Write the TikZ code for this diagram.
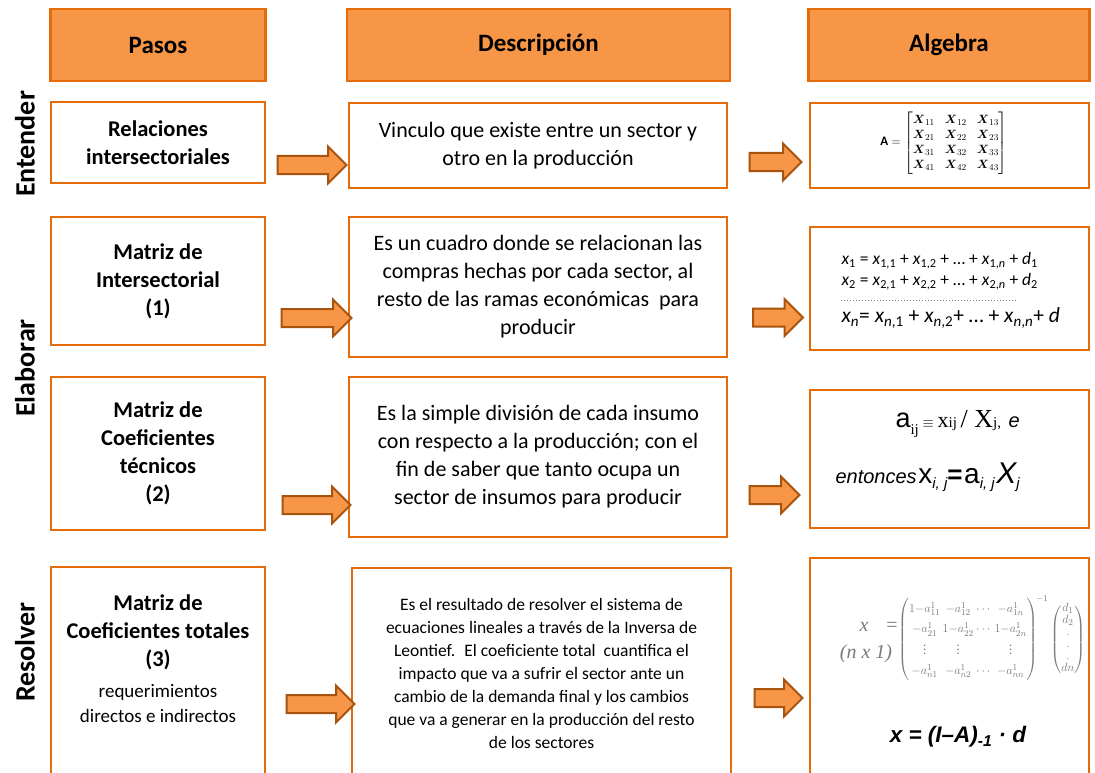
\documentclass[tikz,border=0pt]{standalone}
\usepackage{amsmath,amssymb}
\usepackage{fontspec}
\setmainfont{Carlito}
\newfontfamily\arialfont{Liberation Sans}
\newfontfamily\timesfont{Liberation Serif}
\usepackage{tikz}
\usetikzlibrary{shapes.arrows}
\definecolor{headfill}{HTML}{F79646}
\definecolor{boxedge}{HTML}{E46C0A}
\definecolor{arrowedge}{HTML}{A8530E}
\definecolor{eqgray}{HTML}{7A7A7A}
\newcommand{\ix}[1]{\textsubscript{#1}}
\tikzset{
% Header cells, step boxes and the block arrows between columns
head box/.style={draw=boxedge,fill=headfill,line width=2.5pt,font=\fontsize{25}{30}\selectfont\bfseries},
step box/.style={draw=boxedge,fill=white,line width=2.5pt,align=center},
step text/.style={align=center,font=\fontsize{22.5}{28}\selectfont\bfseries},
desc text/.style={align=center,font=\fontsize{22}{28}\selectfont},
block arrow/.style={single arrow,draw=arrowedge,fill=headfill,line width=2pt,inner xsep=0pt,inner ysep=8pt,minimum width=36pt,single arrow head extend=9.5pt},
stage label/.style={rotate=90,font=\fontsize{28}{30}\selectfont\bfseries}
}

\begin{document}
\begin{tikzpicture}[x=1pt,y=-1pt]
      \clip (0,0) rectangle (1095,773);
      % Headers
      \node[head box,minimum width=215pt,minimum height=72pt] (hPasos) at (158,45) {Pasos};
      \node[head box,minimum width=383pt,minimum height=72pt] (hDesc) at (538.5,45) {Descripción};
      \node[head box,minimum width=281pt,minimum height=72pt] (hAlg) at (949,45) {Algebra};
      % Stages
      \node[stage label] (sEnt) at (25,144) {Entender};
      \node[stage label] (sEla) at (25,368) {Elaborar};
      \node[stage label] (sRes) at (25,652) {Resolver};
      % Row 1
      \node[step box,step text,minimum width=214pt,minimum height=81pt] (p1) at (158,142.5) {Relaciones\\intersectoriales};
      \node[step box,desc text,minimum width=378pt,minimum height=85pt] (d1) at (538,145.5) {Vinculo que existe entre un sector y\\otro en la producción};
      \node[step box,minimum width=279pt,minimum height=85pt] (a1) at (949.5,145.5) {};
      \node (m1) at (944,143) {\fontsize{13}{15}\selectfont$\mathbf{A}=\begin{bmatrix}\boldsymbol{X}_{11}&\boldsymbol{X}_{12}&\boldsymbol{X}_{13}\\ \boldsymbol{X}_{21}&\boldsymbol{X}_{22}&\boldsymbol{X}_{23}\\ \boldsymbol{X}_{31}&\boldsymbol{X}_{32}&\boldsymbol{X}_{33}\\ \boldsymbol{X}_{41}&\boldsymbol{X}_{42}&\boldsymbol{X}_{43}\end{bmatrix}$};
      \node[block arrow,minimum height=69pt] (r1a) at (307.5,165) {};
      \node[block arrow,minimum height=52pt] (r1b) at (771,162) {};
      % Row 2
      \node[step box,step text,minimum width=214pt,minimum height=128pt] (p2) at (158,281) {Matriz de\\Intersectorial\\(1)};
      \node[step box,desc text,minimum width=378pt,minimum height=140pt] (d2) at (538,287) {Es un cuadro donde se relacionan las\\compras hechas por cada sector, al\\resto de las ramas económicas~ para\\producir};
      \node[step box,minimum width=279pt,minimum height=123pt] (a2) at (949.5,288.5) {};
      \node[anchor=west,font=\fontsize{17.5}{20}\selectfont] (e1) at (838,261) {\textit{x}\ix{1} = \textit{x}\ix{1,1} + \textit{x}\ix{1,2} + … + \textit{x}\ix{1,\textit{n}} + \textit{d}\ix{1}};
      \node[anchor=west,font=\fontsize{17.5}{20}\selectfont] (e2) at (838,282) {\textit{x}\ix{2} = \textit{x}\ix{2,1} + \textit{x}\ix{2,2} + … + \textit{x}\ix{2,\textit{n}} + \textit{d}\ix{2}};
      \draw[dotted,line width=1pt,gray] (841,300) -- (1018,300);
      \node[anchor=west,font=\fontsize{21.5}{24}\selectfont] (e3) at (838,318) {\textit{x}\ix{\textit{n}}= \textit{x}\ix{\textit{n},1} + \textit{x}\ix{\textit{n},2}+ … + \textit{x}\ix{\textit{n},\textit{n}}+ \textit{d}};
      \node[block arrow,minimum height=70pt] (r2a) at (312,318) {};
      \node[block arrow,minimum height=50pt] (r2b) at (773.5,317.5) {};
      % Row 3
      \node[step box,step text,minimum width=214pt,minimum height=153pt] (p3) at (158,453.5) {Matriz de\\Coeficientes\\técnicos\\(2)};
      \node[step box,desc text,minimum width=378pt,minimum height=160pt] (d3) at (538,457) {Es la simple división de cada insumo\\con respecto a la producción; con el\\fin de saber que tanto ocupa un\\sector de insumos para producir};
      \node[step box,minimum width=279pt,minimum height=138pt] (a3) at (949.5,459) {};
      \begin{scope}
        \clip (820,395) rectangle (1019,450);
        \node[anchor=west] (f1) at (892,424) {{\arialfont\fontsize{27}{30}\selectfont a}{\timesfont\fontsize{15}{18}\selectfont\raisebox{-7pt}{ij} $\equiv$ {\fontsize{22}{24}\selectfont x}ij {\fontsize{26}{28}\selectfont/ X}j, ~{\arialfont\itshape\fontsize{20}{24}\selectfont en}}};
      \end{scope}
      \node[anchor=west,font=\arialfont] (f2) at (832,477) {{\itshape\fontsize{20}{24}\selectfont entonces}\,{\fontsize{28}{30}\selectfont x}{\itshape\fontsize{15}{18}\selectfont\raisebox{-5pt}{i, j}}{\bfseries\fontsize{26}{28}\selectfont =}\,{\fontsize{28}{30}\selectfont a}{\itshape\fontsize{15}{18}\selectfont\raisebox{-5pt}{i, j}}\,{\itshape\fontsize{30}{32}\selectfont X}{\itshape\fontsize{15}{18}\selectfont\raisebox{-5pt}{j}}};
      \node[block arrow,minimum height=68pt] (r3a) at (312,505) {};
      \node[block arrow,minimum height=50pt] (r3b) at (770,495) {};
      % Row 4
      \node[step box,minimum width=214pt,minimum height=233pt] (p4) at (158,683.5) {};
      \node[step text] (p4t) at (158,632) {Matriz de\\Coeficientes totales\\(3)};
      \node[align=center,font=\fontsize{19}{25}\selectfont] (p4s) at (158,704) {requerimientos\\directos e indirectos};
      \node[step box,minimum width=379pt,minimum height=232pt] (d4) at (541.5,684) {};
      \node[align=center,font=\fontsize{17.5}{23}\selectfont] (d4t) at (541.5,673) {Es el resultado de resolver el sistema de\\ecuaciones lineales a través de la Inversa de\\Leontief.~ El coeficiente total~ cuantifica el\\impacto que va a sufrir el sector ante un\\cambio de la demanda final y los cambios\\que va a generar en la producción del resto\\de los sectores};
      \node[step box,minimum width=279pt,minimum height=242pt] (a4) at (949.5,679) {};
      \node[text=eqgray,font=\timesfont\itshape\fontsize{20}{22}\selectfont] (g1) at (864,627) {x};
      \node[text=eqgray,font=\timesfont\itshape\fontsize{20}{22}\selectfont] (g2) at (866,654) {(n x 1)};
      \node[text=eqgray,font=\timesfont\fontsize{20}{22}\selectfont] (g3) at (892,627) {=};
      \node[anchor=west,text=eqgray,inner sep=0pt] (g4) at (898,638) {\fontsize{12.5}{15}\selectfont\setlength{\arraycolsep}{1.2pt}\renewcommand{\arraystretch}{1.35}$\left(\begin{array}{@{}cccc@{}}1{-}a^{1}_{11}&-a^{1}_{12}&\cdots&-a^{1}_{1n}\\ -a^{1}_{21}&1{-}a^{1}_{22}&\cdots&1{-}a^{1}_{2n}\\ \vdots&\vdots&&\vdots\\ -a^{1}_{n1}&-a^{1}_{n2}&\cdots&-a^{1}_{nn}\end{array}\right)^{\!-1}{\renewcommand{\arraystretch}{0.8}\left(\begin{array}{@{}c@{}}d_1\\ d_2\\ .\\ .\\ .\\ dn\end{array}\right)}$};
      \node[font=\arialfont\bfseries\itshape\fontsize{22.5}{28}\selectfont] (g5) at (958,737) {x = (I–A)\ix{-1} · d};
      \node[block arrow,minimum height=68pt] (r4a) at (316,704) {};
      \node[block arrow,minimum height=48pt] (r4b) at (774,698) {};
\end{tikzpicture}
\end{document}
